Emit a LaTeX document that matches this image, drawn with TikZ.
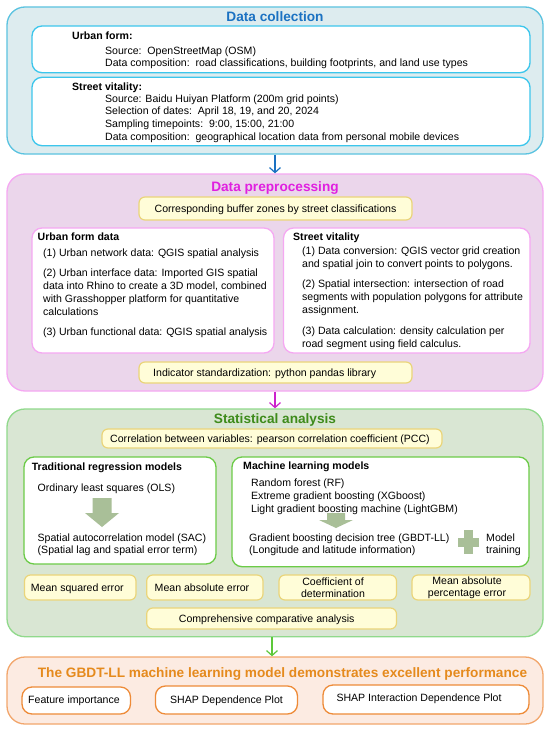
\documentclass[tikz,border=0pt]{standalone}
\usepackage{fontspec}
\setmainfont{Liberation Sans}
\usetikzlibrary{arrows.meta,fit}
\definecolor{dcfill}{HTML}{DDECEF}
\definecolor{dcbd}{HTML}{5BC3E0}
\definecolor{dcin}{HTML}{3CC6EC}
\definecolor{dcttl}{HTML}{1B72C2}
\definecolor{ppfill}{HTML}{EBD6EB}
\definecolor{ppbd}{HTML}{F5A8F2}
\definecolor{ppttl}{HTML}{E020E0}
\definecolor{yfill}{HTML}{FFFDD8}
\definecolor{ybd}{HTML}{EAD57A}
\definecolor{safill}{HTML}{D9E6D3}
\definecolor{sabd}{HTML}{90D98B}
\definecolor{sain}{HTML}{6CCB48}
\definecolor{sattl}{HTML}{3E8B1B}
\definecolor{orfill}{HTML}{FCEBE2}
\definecolor{orbd}{HTML}{F2A66C}
\definecolor{orin}{HTML}{EE8B38}
\definecolor{orttl}{HTML}{E58A1D}
\definecolor{blk}{HTML}{A9BF98}
\definecolor{magarr}{HTML}{CC22CC}
\definecolor{grarr}{HTML}{5DC83A}
\newcommand\bodyfs{\fontsize{10.6}{12.5}\selectfont}
\newcommand\titlefs{\fontsize{13.7}{16}\selectfont}
\begin{document}
\begin{tikzpicture}[x=1bp,y=-1bp,
  txt/.style={anchor=base west, inner sep=0, font=\bodyfs},
  btxt/.style={anchor=base west, inner sep=0, font=\bodyfs\bfseries},
  ctxt/.style={anchor=base, inner sep=0, font=\bodyfs},
  ttl/.style={anchor=base, inner sep=0, font=\titlefs\bfseries},
  outerbox/.style={draw, line width=1.3bp, rounded corners=18bp, inner sep=0},
  innerbox/.style={draw, fill=white, line width=1.3bp, rounded corners=10bp, inner sep=0},
  ybox/.style={draw=ybd, fill=yfill, line width=1.2bp, rounded corners=6bp, inner sep=0},
  arr/.style={-{Straight Barb[length=5bp,width=11bp]}, line width=1.2bp},
  blockarrow/.style={fill=blk, draw=none}]
\useasboundingbox (0,0) rectangle (550,730);
\fill[white] (0,0) rectangle (550,730);

% ---------- Data collection ----------
\node[outerbox, draw=dcbd, fill=dcfill, fit={(7,7)(543,154)}] (dc) {};
\node[ttl, text=dcttl] (dct) at (275,21.6) {Data collection};
\node[innerbox, draw=dcin, fit={(32,26)(530,72.7)}] (ufbox) {};
\node[btxt] (uf0) at (72,39.6) {Urban form:};
\node[txt] (uf1) at (105,54.3) {Source:\ \ OpenStreetMap (OSM)};
\node[txt] (uf2) at (105,66.3) {Data composition:\ \ road classifications, building footprints, and land use types};
\node[innerbox, draw=dcin, fit={(32,77.3)(530,145.7)}] (svbox) {};
\node[btxt] (sv0) at (72,90.3) {Street vitality:};
\node[txt] (sv1) at (105,102.6) {Source: Baidu Huiyan Platform (200m grid points)};
\node[txt] (sv2) at (105,114.6) {Selection of dates:\ \ April 18, 19, and 20, 2024};
\node[txt] (sv3) at (105,127.6) {Sampling timepoints:\ \ 9:00, 15:00, 21:00};
\node[txt] (sv4) at (105,140.3) {Data composition:\ \ geographical location data from personal mobile devices};

% ---------- Data preprocessing ----------
\node[outerbox, draw=ppbd, fill=ppfill, fit={(7,174)(543,391)}] (pp) {};
\node[ttl, text=ppttl] (ppt) at (275,191.9) {Data preprocessing};
\node[ybox, fit={(139,197)(412,220)}] (buf) {};
\node[ctxt] (buft) at (275.5,212.1) {Corresponding buffer zones by street classifications};
\node[innerbox, draw=ppbd, fit={(32,228)(274,353)}] (ufd) {};
\node[btxt] (ufd0) at (37.5,240.6) {Urban form data};
\node[txt] (ufd1) at (43,256.6) {(1) Urban network data: QGIS spatial analysis};
\node[txt] (ufd2) at (43,276.6) {(2) Urban interface data: Imported GIS spatial};
\node[txt] (ufd3) at (43,289.6) {data into Rhino to create a 3D model, combined};
\node[txt] (ufd4) at (43,302.6) {with Grasshopper platform for quantitative};
\node[txt] (ufd5) at (43,315.6) {calculations};
\node[txt] (ufd6) at (43,335.6) {(3) Urban functional data: QGIS spatial analysis};
\node[innerbox, draw=ppbd, fit={(283.5,228)(530,353)}] (svd) {};
\node[btxt] (svd0) at (293,240.6) {Street vitality};
\node[txt] (svd1) at (302,254.6) {(1) Data conversion: QGIS vector grid creation};
\node[txt] (svd2) at (302,267.9) {and spatial join to convert points to polygons.};
\node[txt] (svd3) at (302,287.6) {(2) Spatial intersection: intersection of road};
\node[txt] (svd4) at (302,300.3) {segments with population polygons for attribute};
\node[txt] (svd5) at (302,313.6) {assignment.};
\node[txt] (svd6) at (302,334.3) {(3) Data calculation: density calculation per};
\node[txt] (svd7) at (302,347.6) {road segment using field calculus.};
\node[ybox, fit={(139,362)(412,383)}] (ind) {};
\node[txt] (indt) at (153,376.1) {Indicator standardization: python pandas library};

% ---------- Statistical analysis ----------
\node[outerbox, draw=sabd, fill=safill, fit={(7,409)(543,636.7)}] (sa) {};
\node[ttl, text=sattl] (sat) at (275,423.9) {Statistical analysis};
\node[ybox, fit={(102,429)(442,448)}] (pcc) {};
\node[ctxt] (pcct) at (270,442.1) {Correlation between variables: pearson correlation coefficient (PCC)};
\node[innerbox, draw=sain, fit={(24,457)(216,564)}] (trad) {};
\node[btxt] (trad0) at (31.6,470.6) {Traditional regression models};
\node[txt] (trad1) at (37.5,491.3) {Ordinary least squares (OLS)};
\fill[blockarrow] (92.5,498) -- (111.5,498) -- (111.5,513) -- (119,513) -- (102,527) -- (85,513) -- (92.5,513) -- cycle;
\node[txt] (trad2) at (37.5,541.6) {Spatial autocorrelation model (SAC)};
\node[txt] (trad3) at (37.5,553.6) {(Spatial lag and spatial error term)};
\node[innerbox, draw=sain, fit={(232,457)(529,566.7)}] (ml) {};
\node[btxt] (ml0) at (243,469.3) {Machine learning models};
\node[txt] (ml1) at (251,486.6) {Random forest (RF)};
\node[txt] (ml2) at (251,499.3) {Extreme gradient boosting (XGboost)};
\node[txt] (ml3) at (251,512.6) {Light gradient boosting machine (LightGBM)};
\fill[blockarrow] (327,513) -- (345,513) -- (345,520) -- (353,520) -- (336,528) -- (319,520) -- (327,520) -- cycle;
\node[txt] (ml4) at (249,541.6) {Gradient boosting decision tree (GBDT-LL)};
\node[txt] (ml5) at (249,553.6) {(Longitude and latitude information)};
\fill[blk] (463.5,530) rectangle (472.5,554);
\fill[blk] (457.5,537.5) rectangle (478.5,546.5);
\node[txt] (ml6) at (486,541.6) {Model};
\node[txt] (ml7) at (486,553.6) {training};
\node[ybox, fit={(24.5,575)(136,600)}] (m1) {};
\node[ctxt] (m1t) at (77.3,591.1) {Mean squared error};
\node[ybox, fit={(146.7,575)(263,600)}] (m2) {};
\node[ctxt] (m2t) at (202,591.1) {Mean absolute error};
\node[ybox, fit={(279,575)(396.5,600)}] (m3) {};
\node[inner sep=0, font=\bodyfs, align=center] (m3t) at (333,587.5) {Coefficient of\\determination};
\node[ybox, fit={(412,575)(530,600)}] (m4) {};
\node[inner sep=0, font=\bodyfs, align=center] (m4t) at (467,587.5) {Mean absolute\\percentage error};
\node[ybox, fit={(146.7,608)(396.5,629)}] (comp) {};
\node[ctxt] (compt) at (266.7,622.1) {Comprehensive comparative analysis};

% ---------- Result ----------
\node[outerbox, draw=orbd, fill=orfill, fit={(7,657)(543,724)}] (res) {};
\node[ttl, text=orttl] (rest) at (282.5,677.6) {The GBDT-LL machine learning model demonstrates excellent performance};
\node[innerbox, draw=orin, fit={(22,687)(130.5,714)}] (r1) {};
\node[ctxt] (r1t) at (74,703.6) {Feature importance};
\node[innerbox, draw=orin, fit={(155.4,686)(297.5,714)}] (r2) {};
\node[ctxt] (r2t) at (226.5,703.6) {SHAP Dependence Plot};
\node[innerbox, draw=orin, fit={(323,685)(529,714)}] (r3) {};
\node[ctxt] (r3t) at (419,701.6) {SHAP Interaction Dependence Plot};

% ---------- Connectors ----------
\draw[arr, dcttl] (dc.south) -- (pp.north);
\draw[arr, magarr] (pp.south) -- (sa.north);
\draw[arr, grarr] ([xshift=-3bp]sa.south) -- ([xshift=-3bp]res.north);
\end{tikzpicture}
\end{document}
